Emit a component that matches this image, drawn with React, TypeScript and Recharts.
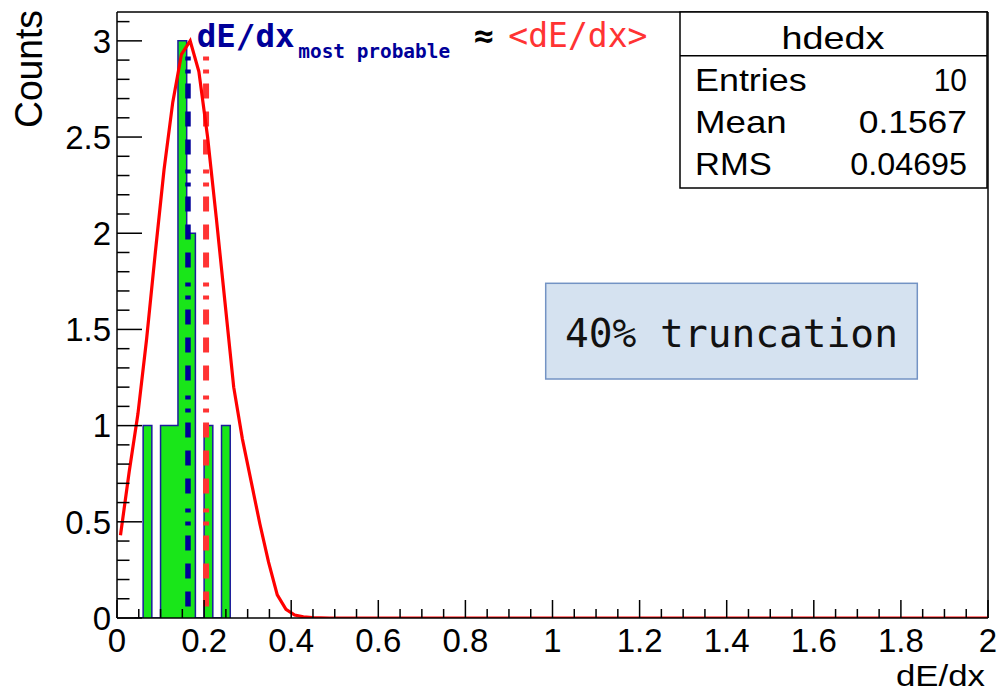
import React from 'react';
import { ComposedChart, Area, Line, XAxis, YAxis, ReferenceLine } from 'recharts';

// Histogram "hdedx": bin lower edges (bin width 0.02) and counts
const binEdges = [0.04, 0.06, 0.08, 0.10, 0.12, 0.14, 0.16, 0.18, 0.20, 0.22, 0.24, 0.26];
const binCounts = [0, 1, 0, 1, 1, 3, 2, 0, 1, 0, 1, 0];

const fitX = [0.008, 0.028, 0.048, 0.068, 0.088, 0.108, 0.128, 0.148, 0.168, 0.188, 0.208, 0.228, 0.248, 0.268, 0.288, 0.308, 0.328, 0.348, 0.368, 0.388, 0.408, 0.428, 0.448, 0.468, 0.488, 2.0];
const fitY = [0.43, 0.76, 1.06, 1.45, 1.90, 2.33, 2.68, 2.93, 3.0, 2.84, 2.50, 2.08, 1.64, 1.20, 0.93, 0.71, 0.49, 0.29, 0.12, 0.045, 0.015, 0.006, 0.002, 0.001, 0, 0];

// Vertical markers
const mostProbableX = 0.163;
const truncMeanX = 0.2045;
const markerYFrom = 0.06;
const markerYTo = 2.95;

// Axes
const xDomain = [0, 2];
const yDomain = [0, 3.15];
const xTicks = [0, 0.05, 0.1, 0.15, 0.2, 0.25, 0.3, 0.35, 0.4, 0.45, 0.5, 0.55, 0.6, 0.65, 0.7, 0.75, 0.8, 0.85, 0.9, 0.95, 1, 1.05, 1.1, 1.15, 1.2, 1.25, 1.3, 1.35, 1.4, 1.45, 1.5, 1.55, 1.6, 1.65, 1.7, 1.75, 1.8, 1.85, 1.9, 1.95, 2];
const xMajor = [0, 0.2, 0.4, 0.6, 0.8, 1, 1.2, 1.4, 1.6, 1.8, 2];
const yTicks = [0, 0.1, 0.2, 0.3, 0.4, 0.5, 0.6, 0.7, 0.8, 0.9, 1, 1.1, 1.2, 1.3, 1.4, 1.5, 1.6, 1.7, 1.8, 1.9, 2, 2.1, 2.2, 2.3, 2.4, 2.5, 2.6, 2.7, 2.8, 2.9, 3, 3.1];
const yMajor = [0, 0.5, 1, 1.5, 2, 2.5, 3];

// Stats box
const statsTitle = 'hdedx';
const statsLabels = ['Entries', 'Mean', 'RMS'];
const statsValues = ['10', '0.1567', '0.04695'];

const histData = binEdges.map((x, i) => ({ x, y: binCounts[i] }));
const fitData = fitX.map((x, i) => ({ x, y: fitY[i] }));
const mpData = [{ x: mostProbableX, y: markerYFrom }, { x: mostProbableX, y: markerYTo }];
const tmData = [{ x: truncMeanX, y: markerYFrom }, { x: truncMeanX, y: markerYTo }];

const SANS = '"Liberation Sans", Arial, Helvetica, sans-serif';
const MONO = '"DejaVu Sans Mono", monospace';

const isIn = (arr: number[], v: number) => arr.some((m) => Math.abs(m - v) < 1e-6);

const XTick = (props: any) => {
  const { x, y, payload } = props;
  const v = payload.value;
  const major = isIn(xMajor, v);
  return (
    <g>
      <line x1={x} y1={y} x2={x} y2={y - (major ? 18 : 9)} stroke="#000" strokeWidth={1.5} />
      {major && (
        <text x={x} y={y + 33.5} textAnchor="middle" fontSize={33} fontFamily={SANS} fill="#000">
          {String(v)}
        </text>
      )}
    </g>
  );
};

const YTick = (props: any) => {
  const { x, y, payload } = props;
  const v = payload.value;
  const major = isIn(yMajor, v);
  return (
    <g>
      <line x1={x} y1={y} x2={x + (major ? 25 : 12.5)} y2={y} stroke="#000" strokeWidth={1.5} />
      {major && (
        <text x={x - 6} y={y + 11.7} textAnchor="end" fontSize={33} fontFamily={SANS} fill="#000">
          {String(v)}
        </text>
      )}
    </g>
  );
};

const dashPattern = '15 13 15 13 15 10 4 9 4 15';
const labelWidths = [111.7, 91.7, 76.7];
const valueWidths = [33.3, 108.3, 116.7];

export default function App() {
  return (
    <div style={{ position: 'absolute', left: 0, top: 0, width: 998, height: 691, background: '#fff', overflow: 'hidden' }}>
      <ComposedChart width={998} height={691} margin={{ top: 12, right: 10, bottom: 0, left: 0 }}>
        <XAxis
          dataKey="x"
          type="number"
          domain={xDomain}
          ticks={xTicks}
          interval={0}
          allowDataOverflow
          height={73}
          tickSize={0}
          tickMargin={0}
          tick={<XTick />}
          axisLine={{ stroke: '#000', strokeWidth: 1.5 }}
          tickLine={false}
        />
        <YAxis
          type="number"
          domain={yDomain}
          ticks={yTicks}
          interval={0}
          allowDataOverflow
          width={117}
          tickSize={0}
          tickMargin={0}
          tick={<YTick />}
          axisLine={{ stroke: '#000', strokeWidth: 1.5 }}
          tickLine={false}
        />
        <ReferenceLine y={yDomain[1]} stroke="#000" strokeWidth={1.5} />
        <ReferenceLine x={xDomain[1]} stroke="#000" strokeWidth={1.5} />
        <Area
          data={histData}
          dataKey="y"
          type="stepAfter"
          stroke="#1c1c9c"
          strokeWidth={1.5}
          fill="#19e619"
          fillOpacity={1}
          isAnimationActive={false}
          dot={false}
          activeDot={false}
        />
        <Line data={mpData} dataKey="y" type="linear" stroke="#000099" strokeWidth={5.5} strokeDasharray={dashPattern} dot={false} activeDot={false} isAnimationActive={false} />
        <Line data={tmData} dataKey="y" type="linear" stroke="#ff3333" strokeWidth={6} strokeDasharray={dashPattern} dot={false} activeDot={false} isAnimationActive={false} />
        <Line data={fitData} dataKey="y" type="linear" stroke="#ff0000" strokeWidth={3.2} dot={false} activeDot={false} isAnimationActive={false} />
      </ComposedChart>
      <svg width={998} height={691} style={{ position: 'absolute', left: 0, top: 0, pointerEvents: 'none' }}>
        {/* Axis titles */}
        <text x={42} y={10} transform="rotate(-90, 42, 10)" textAnchor="end" fontSize={38} fontFamily={SANS} fill="#000" textLength={118} lengthAdjust="spacingAndGlyphs">
          Counts
        </text>
        <text x={985} y={686} textAnchor="end" fontSize={29} fontFamily={SANS} fill="#000" textLength={89} lengthAdjust="spacingAndGlyphs">
          dE/dx
        </text>
        {/* Title */}
        <text x={196.7} y={46.7} fontSize={32.5} fontWeight="bold" fontFamily={MONO} fill="#000099">
          dE/dx
        </text>
        <text x={298.3} y={58.3} fontSize={19.4} fontWeight="bold" fontFamily={MONO} fill="#000099">
          most probable
        </text>
        <text x={474} y={46.7} fontSize={33} fontWeight="bold" fontFamily={MONO} fill="#000">
          ≈
        </text>
        <text x={508.3} y={46.7} fontSize={33} fontFamily={MONO} fill="#ff3333">
          {'<dE/dx>'}
        </text>
        {/* Stats box */}
        <rect x={680} y={12} width={307} height={176} fill="#fff" stroke="#000" strokeWidth={1.5} />
        <line x1={680} y1={55.7} x2={987} y2={55.7} stroke="#000" strokeWidth={1.5} />
        <text x={833} y={49} textAnchor="middle" fontSize={32} fontFamily={SANS} fill="#000" textLength={103} lengthAdjust="spacingAndGlyphs">
          {statsTitle}
        </text>
        {statsLabels.map((l, i) => (
          <text key={l} x={695} y={91 + i * 42} fontSize={31.5} fontFamily={SANS} fill="#000" textLength={labelWidths[i]} lengthAdjust="spacingAndGlyphs">
            {l}
          </text>
        ))}
        {statsValues.map((v, i) => (
          <text key={v} x={967} y={91 + i * 42} textAnchor="end" fontSize={31.5} fontFamily={SANS} fill="#000" textLength={valueWidths[i]} lengthAdjust="spacingAndGlyphs">
            {v}
          </text>
        ))}
        {/* Annotation box */}
        <rect x={545.7} y={283.3} width={371.6} height={95.7} fill="#d5e2f0" stroke="#7393c4" strokeWidth={1.5} />
        <text x={565} y={346.7} fontSize={39.5} fontFamily={MONO} fill="#111">
          40% truncation
        </text>
      </svg>
    </div>
  );
}
